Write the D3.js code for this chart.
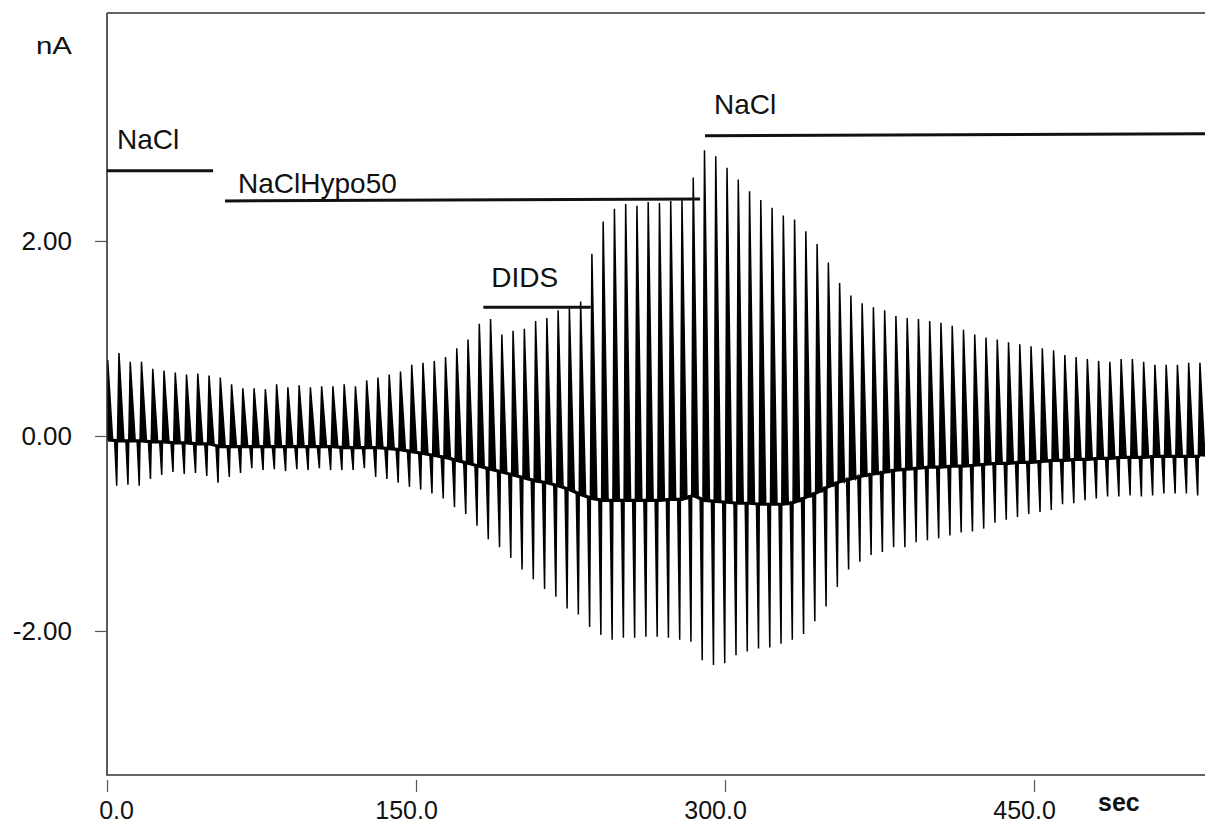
<!DOCTYPE html>
<html><head><meta charset="utf-8">
<script src="https://cdn.jsdelivr.net/npm/d3@7"></script>
<style>body{margin:0;background:#fff}svg{display:block}</style>
</head><body><svg id="c" width="1205" height="826"></svg>
<script>
// ---- data ----
const xTicks = [0, 150, 300, 450];
const yTicks = [2, 0, -2];
const period = 5.466;      // seconds between ramps
const firstSpike = 0.34;   // time of first positive peak (s)
const peakMax = [0.78,0.85,0.76,0.76,0.69,0.67,0.65,0.63,0.64,0.62,
 0.60,0.53,0.49,0.49,0.48,0.53,0.50,0.52,0.50,0.51,
 0.51,0.53,0.51,0.57,0.60,0.63,0.66,0.73,0.75,0.77,
 0.81,0.90,0.99,1.15,1.20,1.04,1.08,1.10,1.18,1.21,
 1.29,1.32,1.38,1.87,2.20,2.33,2.38,2.36,2.40,2.39,
 2.41,2.42,2.65,2.93,2.87,2.75,2.63,2.51,2.42,2.34,
 2.26,2.22,2.10,1.97,1.78,1.57,1.44,1.36,1.32,1.29,
 1.23,1.21,1.20,1.18,1.16,1.13,1.09,1.04,1.01,0.99,
 0.96,0.94,0.92,0.90,0.88,0.83,0.81,0.79,0.77,0.76,
 0.79,0.79,0.76,0.73,0.73,0.73,0.75,0.75];
const peakMin = [-0.45,-0.51,-0.50,-0.51,-0.44,-0.40,-0.37,-0.39,-0.38,-0.41,
 -0.48,-0.42,-0.38,-0.33,-0.35,-0.34,-0.36,-0.34,-0.35,-0.33,
 -0.35,-0.35,-0.35,-0.33,-0.42,-0.44,-0.48,-0.52,-0.55,-0.59,
 -0.64,-0.73,-0.80,-0.92,-1.06,-1.14,-1.25,-1.37,-1.47,-1.57,
 -1.65,-1.77,-1.83,-1.96,-2.04,-2.09,-2.07,-2.07,-2.06,-2.06,
 -2.07,-2.09,-2.11,-2.30,-2.35,-2.33,-2.25,-2.21,-2.18,-2.17,
 -2.13,-2.09,-2.03,-1.90,-1.75,-1.55,-1.37,-1.29,-1.22,-1.19,
 -1.14,-1.14,-1.09,-1.07,-1.05,-1.02,-0.99,-0.98,-0.95,-0.89,
 -0.86,-0.83,-0.80,-0.78,-0.76,-0.70,-0.69,-0.66,-0.64,-0.62,
 -0.62,-0.61,-0.62,-0.61,-0.59,-0.59,-0.59,-0.61];
const baseline = [-0.04,-0.05,-0.05,-0.05,-0.06,-0.06,-0.07,-0.07,-0.08,-0.08,
 -0.11,-0.11,-0.11,-0.11,-0.11,-0.11,-0.11,-0.11,-0.11,-0.11,
 -0.11,-0.12,-0.12,-0.12,-0.12,-0.13,-0.14,-0.16,-0.18,-0.20,
 -0.22,-0.25,-0.28,-0.31,-0.34,-0.37,-0.40,-0.43,-0.46,-0.48,
 -0.51,-0.55,-0.60,-0.64,-0.66,-0.66,-0.66,-0.66,-0.66,-0.66,
 -0.65,-0.65,-0.61,-0.66,-0.67,-0.68,-0.69,-0.69,-0.70,-0.70,
 -0.70,-0.68,-0.63,-0.58,-0.52,-0.47,-0.44,-0.41,-0.39,-0.37,
 -0.35,-0.34,-0.33,-0.32,-0.32,-0.31,-0.31,-0.30,-0.29,-0.28,
 -0.28,-0.27,-0.27,-0.26,-0.25,-0.25,-0.24,-0.24,-0.23,-0.23,
 -0.22,-0.22,-0.22,-0.21,-0.21,-0.21,-0.21,-0.21];
const solLabels = ["NaCl", "NaClHypo50", "DIDS", "NaCl"];
const solStart  = [0, 57.3, 182.7, 290.3];
const solEnd    = [51.5, 287.9, 234.8, 533];
const solLevelStart = [2.72, 2.41, 1.32, 3.08];
const solLevelEnd   = [2.72, 2.43, 1.32, 3.10];

// ---- layout ----
const svg = d3.select("#c");
const L = 107, R = 1205, T = 13, B = 775;
const x = d3.scaleLinear().domain([0, 533]).range([L, R]);
const y = d3.scaleLinear().domain([-3.477, 4.338]).range([B, T]);
const font = "'Liberation Sans', Arial, Helvetica, sans-serif";

svg.append("rect").attr("width",1205).attr("height",826).attr("fill","#fff");
svg.append("defs").append("clipPath").attr("id","clip")
  .append("rect").attr("x",L).attr("y",T).attr("width",R-L).attr("height",B-T);

// build trace points
const pts = [];
peakMax.forEach((mx, i) => {
  const t = firstSpike + i * period;
  const b = baseline[i];
  pts.push({t: t - 2.1, v: b, b});
  pts.push({t: t - 1.1, v: peakMin[i], b});
  pts.push({t: t, v: mx, b});
  pts.push({t: t + 2.4, v: b, b});
});

const g = svg.append("g").attr("clip-path","url(#clip)");
g.append("path").datum(pts)
  .attr("d", d3.area().x(d => x(d.t)).y0(d => y(d.b)).y1(d => y(d.v)))
  .attr("fill","#000");
g.append("path").datum(pts)
  .attr("d", d3.line().x(d => x(d.t)).y(d => y(d.v)))
  .attr("fill","none").attr("stroke","#000").attr("stroke-width",1.5)
  .attr("stroke-linejoin","miter");
g.append("path").datum(baseline.map((b,i)=>({t:firstSpike+i*period, b})))
  .attr("d", d3.line().x(d => x(d.t)).y(d => y(d.b)))
  .attr("fill","none").attr("stroke","#000").attr("stroke-width",3.2);

// frame
svg.append("path").attr("d",`M${L},${T}H${R}M${L},${T}V${B}H${R}`)
  .attr("fill","none").attr("stroke","#333").attr("stroke-width",1.6);

// y axis
const fmtY = v => d3.format(".2f")(v).replace("\u2212", "-");
const ya = svg.append("g").attr("transform",`translate(${L},0)`)
  .call(d3.axisLeft(y).tickValues(yTicks).tickFormat(fmtY).tickSize(12).tickPadding(23));
ya.select(".domain").remove();
ya.selectAll("line").attr("stroke","#555").attr("stroke-width",1.2);
ya.selectAll("text").attr("font-family",font).attr("font-size",26).attr("fill","#111");

// x axis
const xa = svg.append("g").attr("transform",`translate(0,${B+5})`)
  .call(d3.axisBottom(x).tickValues(xTicks).tickFormat(d3.format(".1f")).tickSize(12));
xa.select(".domain").remove();
xa.selectAll("line").attr("stroke","#555").attr("stroke-width",1.2);
xa.selectAll("text").attr("font-family",font).attr("font-size",25).attr("fill","#111")
  .attr("y",39).attr("dy",0).attr("dx",(d,i)=> i===0 ? 9 : -10);

// unit labels
svg.append("text").attr("x",36).attr("y",54).text("nA")
  .attr("font-family",font).attr("font-size",23).attr("fill","#111")
  .attr("textLength",36).attr("lengthAdjust","spacingAndGlyphs");
svg.append("text").attr("x",1098).attr("y",811).text("sec")
  .attr("font-family",font).attr("font-size",25).attr("font-weight","bold").attr("fill","#111");

// solution bars
const labelDx = [10, 13, 8, 9];
const labelDy = [-22, -8, -20, -22];
solLabels.forEach((lab, i) => {
  svg.append("line")
    .attr("x1", x(solStart[i])).attr("x2", x(solEnd[i]))
    .attr("y1", y(solLevelStart[i])).attr("y2", y(solLevelEnd[i]))
    .attr("stroke","#111").attr("stroke-width",3);
  svg.append("text").attr("x", x(solStart[i]) + labelDx[i]).attr("y", y(solLevelStart[i]) + labelDy[i])
    .text(lab).attr("font-family",font).attr("font-size",28).attr("fill","#111");
});
</script></body></html>
